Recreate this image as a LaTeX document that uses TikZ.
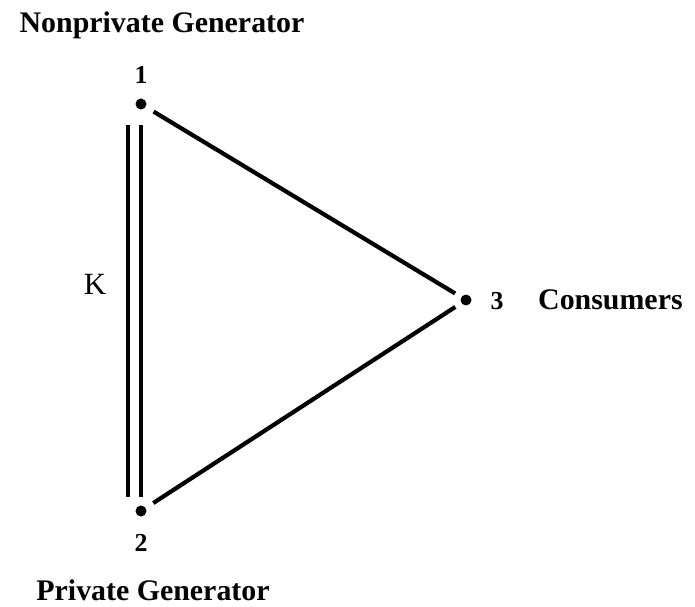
\documentclass[tikz,border=0pt]{standalone}
\usepackage{fontspec}
\setmainfont{Liberation Serif}
\usepackage{tikz}

\begin{document}
\begin{tikzpicture}[x=1bp, y=-1bp,
    vtx/.style={circle, fill=black, inner sep=0pt, minimum size=11bp},
    num/.style={font=\fontsize{26}{26}\selectfont\bfseries},
    agent/.style={font=\fontsize{30}{30}\selectfont\bfseries, inner sep=1bp},
    link/.style={line width=4.2bp, shorten <=9bp, shorten >=7bp}]
  \useasboundingbox (0,0) rectangle (695,607);
  % nodes
  \node[vtx] (n1) at (141,104) {};
  \node[vtx] (n2) at (141,511) {};
  \node[vtx] (n3) at (466,300) {};
  \node[num] (l1) at (141,75) {1};
  \node[num] (l2) at (141,543) {2};
  \node[num] (l3) at (497,301) {3};
  \node[agent] (gen1) at (162,25) {Nonprivate Generator};
  \node[agent] (gen2) at (153,590) {Private Generator};
  \node[agent, anchor=west] (cons) at (537,300) {Consumers};
  \node[font=\fontsize{31}{31}\selectfont] (k) at (95,284) {K};
  % lines
  \draw[link] (n1) -- (n3);
  \draw[link] (n2) -- (n3);
  \draw[line width=4.2bp] ([shift={(-13,21)}]n1.center) -- ([shift={(-13,-14)}]n2.center);
  \draw[line width=4.2bp] ([shift={(0,21)}]n1.center) -- ([shift={(0,-14)}]n2.center);
\end{tikzpicture}
\end{document}
